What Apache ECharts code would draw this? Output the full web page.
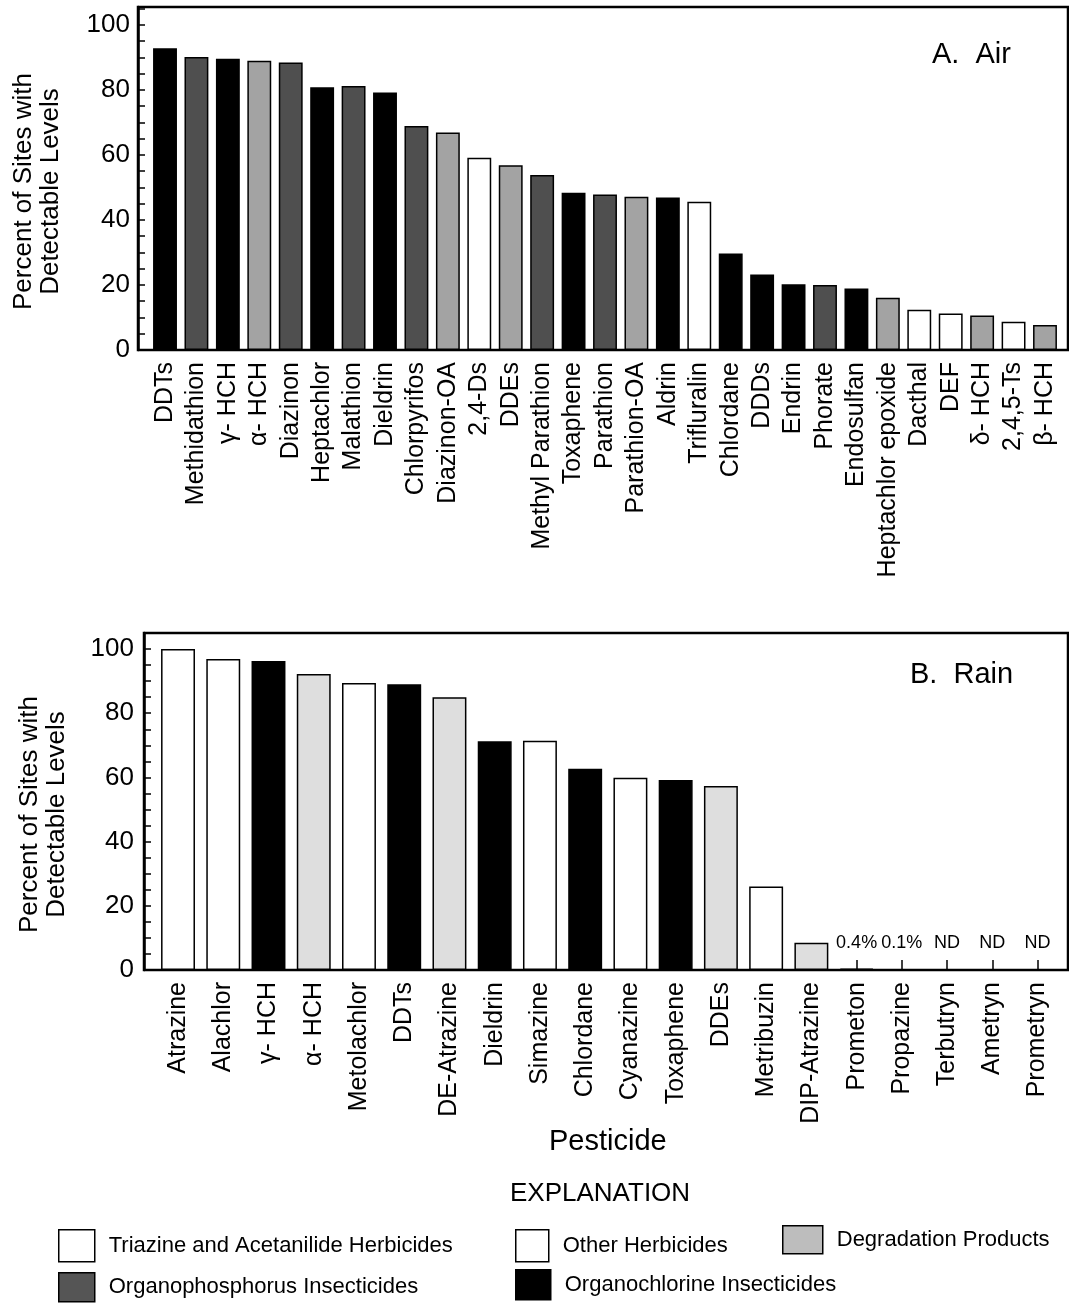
<!DOCTYPE html>
<html><head><meta charset="utf-8">
<script src="https://cdn.jsdelivr.net/npm/echarts@6/dist/echarts.min.js"></script>
<style>html,body{margin:0;padding:0;background:#fff}#c{width:1069px;height:1303px}</style>
</head><body><div id="c"></div>
<script>
// ---- data ----
const classCodes = ['T', 'H', 'D', 'P', 'C'];
const classNames = ['Triazine and Acetanilide Herbicides', 'Other Herbicides', 'Degradation Products', 'Organophosphorus Insecticides', 'Organochlorine Insecticides'];

const airCategories = ['DDTs', 'Methidathion', 'γ- HCH', 'α- HCH', 'Diazinon', 'Heptachlor', 'Malathion', 'Dieldrin', 'Chlorpyrifos', 'Diazinon-OA', '2,4-Ds', 'DDEs', 'Methyl Parathion', 'Toxaphene', 'Parathion', 'Parathion-OA', 'Aldrin', 'Trifluralin', 'Chlordane', 'DDDs', 'Endrin', 'Phorate', 'Endosulfan', 'Heptachlor epoxide', 'Dacthal', 'DEF', 'δ- HCH', '2,4,5-Ts', 'β- HCH'];
const airValues = [92.8, 90.1, 89.6, 89.0, 88.4, 80.8, 81.2, 79.2, 68.9, 66.9, 59.1, 56.8, 53.8, 48.4, 47.8, 47.1, 46.9, 45.6, 29.7, 23.2, 20.2, 20.0, 18.9, 16.1, 12.4, 11.2, 10.6, 8.7, 7.7];
const airClasses = ['C', 'P', 'C', 'D', 'P', 'C', 'P', 'C', 'P', 'D', 'H', 'D', 'P', 'C', 'P', 'D', 'C', 'H', 'C', 'C', 'C', 'P', 'C', 'D', 'H', 'H', 'D', 'H', 'D'];

const rainCategories = ['Atrazine', 'Alachlor', 'γ- HCH', 'α- HCH', 'Metolachlor', 'DDTs', 'DE-Atrazine', 'Dieldrin', 'Simazine', 'Chlordane', 'Cyanazine', 'Toxaphene', 'DDEs', 'Metribuzin', 'DIP-Atrazine', 'Prometon', 'Propazine', 'Terbutryn', 'Ametryn', 'Prometryn'];
const rainValues = [100.0, 96.9, 96.3, 92.2, 89.4, 89.0, 85.0, 71.3, 71.4, 62.7, 59.9, 59.2, 57.3, 26.0, 8.5, 0.4, 0.1, 0, 0, 0];
const rainClasses = ['T', 'T', 'C', 'D', 'T', 'C', 'D', 'C', 'T', 'C', 'T', 'C', 'D', 'H', 'D', 'T', 'T', 'T', 'T', 'T'];
const rainNotes = ['', '', '', '', '', '', '', '', '', '', '', '', '', '', '', '0.4%', '0.1%', 'ND', 'ND', 'ND'];

const yTickLabels = [0, 20, 40, 60, 80, 100];

// ---- styles ----
const airColors = { T: '#ffffff', H: '#ffffff', D: '#a3a3a3', P: '#4f4f4f', C: '#000000' };
const rainColors = { T: '#ffffff', H: '#ffffff', D: '#dedede', P: '#4f4f4f', C: '#000000' };
const legendColors = { T: '#ffffff', H: '#ffffff', D: '#bdbdbd', P: '#555555', C: '#000000' };

function makeSeries(vals, classes, colors, xIdx, yIdx, gap, notes) {
  return classCodes.map((code, k) => ({
    type: 'bar',
    name: classNames[k],
    xAxisIndex: xIdx,
    yAxisIndex: yIdx,
    barGap: '-100%',
    barCategoryGap: gap,
    data: vals.map((v, i) => classes[i] === code ? v : '-'),
    itemStyle: { color: colors[code], borderColor: '#000', borderWidth: 1.5 },
    label: notes ? {
      show: true, position: 'top', distance: 17, fontSize: 18, color: '#000',
      formatter: p => notes[p.dataIndex] || ''
    } : { show: false },
    silent: true
  }));
}

const yName = 'Percent of Sites with\nDetectable Levels';
function frameY(grid, max, margin) {
  return {
    gridIndex: grid, type: 'value', min: 0, max: max, interval: 5,
    axisLine: { show: true, lineStyle: { color: '#000', width: 2.5 } },
    axisTick: { show: true, inside: true, length: 7, lineStyle: { color: '#000', width: 1.5 } },
    axisLabel: { color: '#000', fontSize: 26, margin: margin, formatter: v => yTickLabels.includes(v) ? String(v) : '' },
    splitLine: { show: false },
    name: yName, nameLocation: 'middle', nameGap: 74,
    nameTextStyle: { fontSize: 26, lineHeight: 27, color: '#000', padding: [0, 26, 0, 0] }
  };
}
function barX(grid, cats, extra) {
  return Object.assign({
    gridIndex: grid, type: 'category', data: cats,
    axisLine: { show: false },
    axisTick: { show: true, inside: true, length: 10, alignWithLabel: true, lineStyle: { color: '#000', width: 1.5 } },
    axisLabel: { interval: 0, rotate: 90, margin: 12, fontSize: 25, color: '#000' },
    splitLine: { show: false }
  }, extra || {});
}
function legendAt(k, left, top, w, h) {
  return {
    left: left, top: top, orient: 'horizontal', itemWidth: w, itemHeight: h, padding: 0, icon: 'rect',
    selectedMode: false, textStyle: { fontSize: 22, color: '#000', padding: [0, 0, 0, 9] },
    data: [{ name: classNames[k], itemStyle: { color: legendColors[classCodes[k]], borderColor: '#000', borderWidth: 1.5 } }]
  };
}

const option = {
  animation: false,
  backgroundColor: '#fff',
  textStyle: { fontFamily: 'Liberation Sans, Arial, sans-serif' },
  title: [
    { text: 'A.  Air', left: 932, top: 40, padding: 0, textStyle: { fontSize: 29, fontWeight: 'normal', color: '#000' } },
    { text: 'B.  Rain', left: 910, top: 660, padding: 0, textStyle: { fontSize: 29, fontWeight: 'normal', color: '#000' } },
    { text: 'EXPLANATION', left: 510, top: 1181, padding: 0, textStyle: { fontSize: 26, fontWeight: 'normal', color: '#000' } }
  ],
  legend: [
    legendAt(0, 58, 1229, 36, 32),
    legendAt(3, 58, 1272, 36, 29),
    legendAt(1, 515, 1229, 33, 32),
    legendAt(4, 515, 1269, 35, 30),
    legendAt(2, 782, 1225, 40, 28)
  ],
  grid: [
    { left: 138, top: 7, right: 1, height: 343, show: true, borderColor: '#000', borderWidth: 2.5 },
    { left: 149.3, top: 7, width: 911.4, height: 343 },
    { left: 144, top: 633, right: 1, height: 337, show: true, borderColor: '#000', borderWidth: 2.5 },
    { left: 155.4, top: 633, width: 904.8, height: 337 }
  ],
  xAxis: [
    { gridIndex: 0, type: 'value', show: false, min: 0, max: 1 },
    barX(1, airCategories),
    { gridIndex: 2, type: 'value', show: false, min: 0, max: 1 },
    barX(3, rainCategories, { name: 'Pesticide', nameLocation: 'middle', nameGap: 157, nameTextStyle: { fontSize: 29, color: '#000' } })
  ],
  yAxis: [
    frameY(0, 105.5, 8),
    { gridIndex: 1, type: 'value', min: 0, max: 105.5, show: false },
    frameY(2, 105, 10),
    { gridIndex: 3, type: 'value', min: 0, max: 105, show: false }
  ],
  series: [].concat(
    makeSeries(airValues, airClasses, airColors, 1, 1, '24%', null),
    makeSeries(rainValues, rainClasses, rainColors, 3, 3, '25%', rainNotes)
  )
};
const chart = echarts.init(document.getElementById('c'), null, { renderer: 'canvas' });
chart.setOption(option);
</script>
</body></html>
